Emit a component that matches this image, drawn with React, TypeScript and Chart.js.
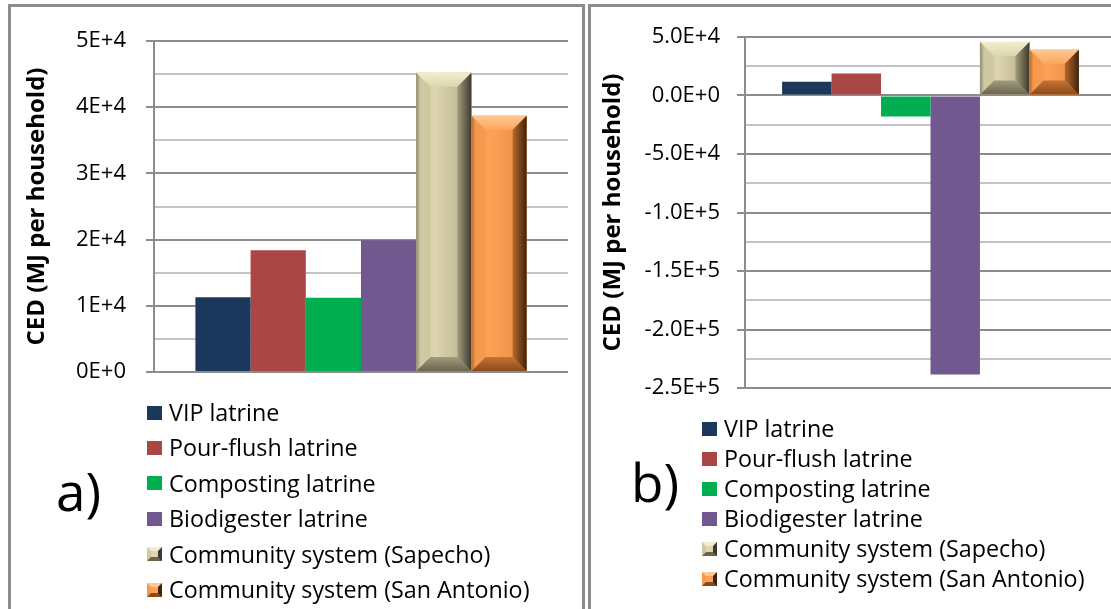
import React, { useEffect, useRef } from 'react';
import { Chart, registerables } from 'chart.js';

Chart.register(...registerables);

const FONT = '"Open Sans", "Noto Sans", sans-serif';

const categories = [''];
const seriesNames = [
  'VIP latrine',
  'Pour-flush latrine',
  'Composting latrine',
  'Biodigester latrine',
  'Community system (Sapecho)',
  'Community system (San Antonio)',
];
const seriesColors = ['#1B375C', '#AA4644', '#00AE4F', '#715990', '#D2CAA2', '#FA9E4E'];

// panel a) values (MJ per household)
const valuesA = [11300, 18400, 11200, 19900, 45200, 38700];
// panel b) values (MJ per household)
const valuesB = [11800, 18700, -18000, -238500, 45800, 39000];

const tickValuesA = [0, 10000, 20000, 30000, 40000, 50000];
const tickLabelsA = ['0E+0', '1E+4', '2E+4', '3E+4', '4E+4', '5E+4'];
const tickValuesB = [-250000, -200000, -150000, -100000, -50000, 0, 50000];
const tickLabelsB = ['-2.5E+5', '-2.0E+5', '-1.5E+5', '-1.0E+5', '-5.0E+4', '0.0E+0', '5.0E+4'];

const axisTitle = 'CED (MJ per household)';

type Bevel = { face: [string, string, string]; top: [string, string]; left: [string, string]; right: [string, string]; bottom: [string, string] };
const bevels: Record<number, Bevel> = {
  4: {
    face: ['#CFC79F', '#DCD5AF', '#B5AE8A'],
    top: ['#F3EDCD', '#DDD5AE'],
    left: ['#8F8A70', '#D0C8A1'],
    right: ['#A39C7E', '#3C3A2C'],
    bottom: ['#A19B7D', '#6A654F'],
  },
  5: {
    face: ['#F79646', '#FCA258', '#E88A3E'],
    top: ['#FFC894', '#FCA65C'],
    left: ['#B86A2C', '#F7994C'],
    right: ['#B9682A', '#3E230D'],
    bottom: ['#C47433', '#8A4B1C'],
  },
};

const bevelPlugin = {
  id: 'bevelBars',
  afterDatasetsDraw(chart: any) {
    const ctx = chart.ctx as CanvasRenderingContext2D;
    chart.data.datasets.forEach((_ds: any, i: number) => {
      const bv = bevels[i];
      if (!bv) return;
      const meta = chart.getDatasetMeta(i);
      meta.data.forEach((bar: any) => {
        const { x, y, base, width } = bar.getProps(['x', 'y', 'base', 'width'], true);
        const l = x - width / 2;
        const r = x + width / 2;
        const t = Math.min(y, base);
        const b = Math.max(y, base);
        const d = Math.min(14, (b - t) / 2.6, width / 3);
        ctx.save();
        let g = ctx.createLinearGradient(l, 0, r, 0);
        g.addColorStop(0, bv.face[0]);
        g.addColorStop(0.35, bv.face[1]);
        g.addColorStop(1, bv.face[2]);
        ctx.fillStyle = g;
        ctx.fillRect(l, t, r - l, b - t);
        const quad = (pts: number[][], fill: any) => {
          ctx.beginPath();
          ctx.moveTo(pts[0][0], pts[0][1]);
          for (let k = 1; k < pts.length; k++) ctx.lineTo(pts[k][0], pts[k][1]);
          ctx.closePath();
          ctx.fillStyle = fill;
          ctx.fill();
        };
        g = ctx.createLinearGradient(0, t, 0, t + d);
        g.addColorStop(0, bv.top[0]);
        g.addColorStop(1, bv.top[1]);
        quad([[l, t], [r, t], [r - d, t + d], [l + d, t + d]], g);
        g = ctx.createLinearGradient(0, b - d, 0, b);
        g.addColorStop(0, bv.bottom[0]);
        g.addColorStop(1, bv.bottom[1]);
        quad([[l + d, b - d], [r - d, b - d], [r, b], [l, b]], g);
        g = ctx.createLinearGradient(l, 0, l + d, 0);
        g.addColorStop(0, bv.left[0]);
        g.addColorStop(0.3, bv.left[1]);
        g.addColorStop(1, bv.left[1]);
        quad([[l, t], [l + d, t + d], [l + d, b - d], [l, b]], g);
        g = ctx.createLinearGradient(r - d, 0, r, 0);
        g.addColorStop(0, bv.right[0]);
        g.addColorStop(1, bv.right[1]);
        quad([[r, t], [r, b], [r - d, b - d], [r - d, t + d]], g);
        ctx.restore();
      });
    });
  },
};

function makeConfig(values: number[], tickValues: number[], tickLabels: string[], min: number, max: number, step: number, scaleWidth: number, titlePad: number, padRight: number, tickPad: number) {
  return {
    type: 'bar' as const,
    data: {
      labels: categories,
      datasets: seriesNames.map((name, i) => ({
        label: name,
        data: [values[i]],
        backgroundColor: seriesColors[i],
        borderWidth: 0,
        categoryPercentage: 0.8,
        barPercentage: 1.0,
      })),
    },
    options: {
      animation: false as const,
      responsive: false,
      devicePixelRatio: 1,
      layout: { padding: { top: 36, bottom: 36, left: 0, right: padRight } },
      plugins: { legend: { display: false }, tooltip: { enabled: false }, title: { display: false } },
      scales: {
        x: { display: false },
        y: {
          min,
          max,
          afterFit: (scale: any) => {
            scale.width = scaleWidth;
          },
          ticks: {
            stepSize: step,
            autoSkip: false,
            padding: tickPad,
            color: '#000',
            font: { family: FONT, size: 22 },
            callback: (v: any) => {
              const idx = tickValues.indexOf(Number(v));
              return idx >= 0 ? tickLabels[idx] : '';
            },
          },
          grid: {
            color: (c: any) => (tickValues.indexOf(c.tick?.value) >= 0 ? '#8C8C8C' : '#C4C4C4'),
            tickColor: (c: any) => (tickValues.indexOf(c.tick?.value) >= 0 ? '#8C8C8C' : 'rgba(0,0,0,0)'),
            lineWidth: 2,
            tickLength: 8,
          },
          border: { display: true, color: '#8C8C8C', width: 2 },
          title: {
            display: true,
            text: axisTitle,
            color: '#000',
            font: { family: FONT, size: 24, weight: 'bold' as const },
            padding: { top: titlePad, bottom: 0 },
          },
        },
      },
    },
    plugins: [bevelPlugin],
  };
}

function ChartCanvas(props: { cfg: any; left: number; top: number; width: number; height: number }) {
  const ref = useRef<HTMLCanvasElement | null>(null);
  useEffect(() => {
    if (!ref.current) return;
    const chart = new Chart(ref.current, props.cfg);
    return () => chart.destroy();
  }, []);
  return (
    <canvas
      ref={ref}
      width={props.width}
      height={props.height}
      style={{ position: 'absolute', left: props.left, top: props.top, width: props.width, height: props.height }}
    />
  );
}

function Swatch({ i }: { i: number }) {
  const bv = bevels[i];
  if (!bv) {
    return <div style={{ width: 15, height: 14, background: seriesColors[i], flex: '0 0 auto' }} />;
  }
  return (
    <div
      style={{
        width: 15,
        height: 14,
        boxSizing: 'border-box',
        borderStyle: 'solid',
        borderWidth: 4,
        borderTopColor: bv.top[0],
        borderLeftColor: bv.left[1],
        borderRightColor: bv.right[1],
        borderBottomColor: bv.bottom[1],
        background: bv.face[1],
        flex: '0 0 auto',
      }}
    />
  );
}

function Legend(props: { left: number; top: number; rowH: number; gap: number }) {
  return (
    <div style={{ position: 'absolute', left: props.left, top: props.top }}>
      {seriesNames.map((n, i) => (
        <div key={n} style={{ display: 'flex', alignItems: 'center', height: props.rowH, whiteSpace: 'nowrap' }}>
          <Swatch i={i} />
          <span style={{ marginLeft: props.gap, fontFamily: FONT, fontSize: 23.3, color: '#000', lineHeight: 1 }}>{n}</span>
        </div>
      ))}
    </div>
  );
}

export default function App() {
  const cfgA = makeConfig(valuesA, tickValuesA, tickLabelsA, 0, 50000, 5000, 142, 10.6, 14, 20);
  const cfgB = makeConfig(valuesB, tickValuesB, tickLabelsB, -250000, 50000, 25000, 153, 6.6, 1, 17);
  return (
    <div style={{ position: 'fixed', left: 0, top: 0, width: 1111, height: 609, overflow: 'hidden', background: '#fff' }}>
      <div style={{ position: 'absolute', left: 8, top: 4, width: 577, height: 640, border: '3px solid #8C8C8C', boxSizing: 'border-box' }} />
      <div style={{ position: 'absolute', left: 588, top: 4, width: 600, height: 640, border: '3px solid #8C8C8C', boxSizing: 'border-box' }} />
      <ChartCanvas cfg={cfgA} left={12} top={5} width={570} height={403} />
      <ChartCanvas cfg={cfgB} left={592} top={1} width={525} height={423} />
      <Legend left={147} top={395} rowH={35.4} gap={7} />
      <Legend left={702} top={414} rowH={30} gap={7} />
      <div style={{ position: 'absolute', left: 56, top: 461, fontFamily: FONT, fontSize: 53, lineHeight: '60px', color: '#000' }}>a)</div>
      <div style={{ position: 'absolute', left: 631, top: 452, fontFamily: FONT, fontSize: 53, lineHeight: '60px', color: '#000' }}>b)</div>
    </div>
  );
}
